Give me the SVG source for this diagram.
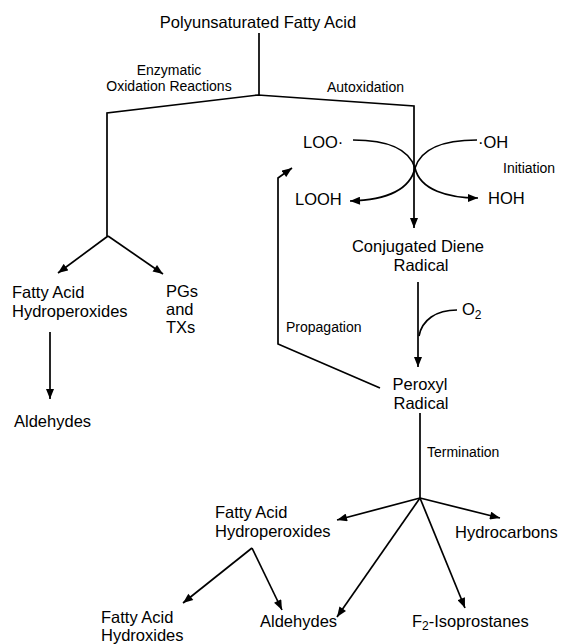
<svg xmlns="http://www.w3.org/2000/svg" width="569" height="644" viewBox="0 0 569 644">
<defs>
<marker id="ah" viewBox="0 0 10 8" refX="10" refY="4" markerWidth="11" markerHeight="8" markerUnits="userSpaceOnUse" orient="auto"><path d="M0,0 L10,4 L0,8 Z" fill="#000"/></marker>
</defs>
<style>
text{font-family:"Liberation Sans",Arial,sans-serif;fill:#000}
.m{font-size:16.5px}
.s{font-size:14px}
.c{stroke:#000;stroke-width:1.7;fill:none}
.a{marker-end:url(#ah)}
</style>
<rect width="569" height="644" fill="#fff"/>
<g id="connectors">
<line class="c" x1="259" y1="33" x2="259" y2="95"/>
<path class="c a" d="M107,236 V113 L258,95 L414,106 V228"/>
<path class="c" d="M353,140 C392,140 410,152 415,168"/>
<path class="c" d="M477,140 C438,140 420,152 415,168"/>
<path class="c a" d="M415,168 C410,190 385,200 350,201"/>
<path class="c a" d="M415,168 C420,190 448,198 478,198"/>
<line class="c a" x1="108" y1="236" x2="58" y2="273"/>
<line class="c a" x1="108" y1="236" x2="163" y2="274"/>
<line class="c a" x1="50" y1="332" x2="50" y2="399"/>
<path class="c a" d="M380,388 L278,344 V178 L292,168"/>
<line class="c a" x1="418" y1="282" x2="418" y2="367"/>
<path class="c" d="M457,310 C436,310 422,320 419,336"/>
<line class="c" x1="420" y1="413" x2="420" y2="498"/>
<line class="c a" x1="420" y1="498" x2="337" y2="520"/>
<line class="c a" x1="420" y1="498" x2="500" y2="518"/>
<line class="c a" x1="420" y1="498" x2="337" y2="617"/>
<line class="c a" x1="420" y1="498" x2="465" y2="608"/>
<line class="c a" x1="252" y1="548" x2="183" y2="603"/>
<line class="c a" x1="252" y1="548" x2="282" y2="610"/>
</g>
<g id="pufa"><text class="m" x="258" y="28" text-anchor="middle">Polyunsaturated Fatty Acid</text></g>
<g id="enzymatic"><text class="s" x="169" y="75" text-anchor="middle">Enzymatic</text><text class="s" x="169" y="91" text-anchor="middle">Oxidation Reactions</text></g>
<g id="autoxidation"><text class="s" x="327" y="92">Autoxidation</text></g>
<g id="loo"><text class="m" x="303" y="148">LOO·</text></g>
<g id="oh"><text class="m" x="478" y="148">·OH</text></g>
<g id="initiation"><text class="s" x="503" y="173">Initiation</text></g>
<g id="looh"><text class="m" x="295" y="205">LOOH</text></g>
<g id="hoh"><text class="m" x="488" y="204">HOH</text></g>
<g id="diene"><text class="m" x="418" y="252" text-anchor="middle">Conjugated Diene</text><text class="m" x="421" y="271" text-anchor="middle">Radical</text></g>
<g id="o2"><text class="m" x="462" y="315">O<tspan font-size="12" dy="4">2</tspan></text></g>
<g id="propagation"><text class="s" x="286" y="332">Propagation</text></g>
<g id="peroxyl"><text class="m" x="420" y="390" text-anchor="middle">Peroxyl</text><text class="m" x="421" y="409" text-anchor="middle">Radical</text></g>
<g id="termination"><text class="s" x="427" y="457">Termination</text></g>
<g id="fahp-left"><text class="m" x="12" y="298">Fatty Acid</text><text class="m" x="12" y="317">Hydroperoxides</text></g>
<g id="pgs"><text class="m" x="166" y="297">PGs</text><text class="m" x="166" y="315">and</text><text class="m" x="166" y="333">TXs</text></g>
<g id="aldehydes-left"><text class="m" x="14" y="427">Aldehydes</text></g>
<g id="fahp-right"><text class="m" x="215" y="518">Fatty Acid</text><text class="m" x="215" y="537">Hydroperoxides</text></g>
<g id="hydrocarbons"><text class="m" x="455" y="538">Hydrocarbons</text></g>
<g id="hydroxides"><text class="m" x="101" y="623">Fatty Acid</text><text class="m" x="101" y="641">Hydroxides</text></g>
<g id="aldehydes-right"><text class="m" x="260" y="627">Aldehydes</text></g>
<g id="isoprostanes"><text class="m" x="412" y="627">F<tspan font-size="12" dy="3">2</tspan><tspan dy="-3">-Isoprostanes</tspan></text></g>
</svg>
